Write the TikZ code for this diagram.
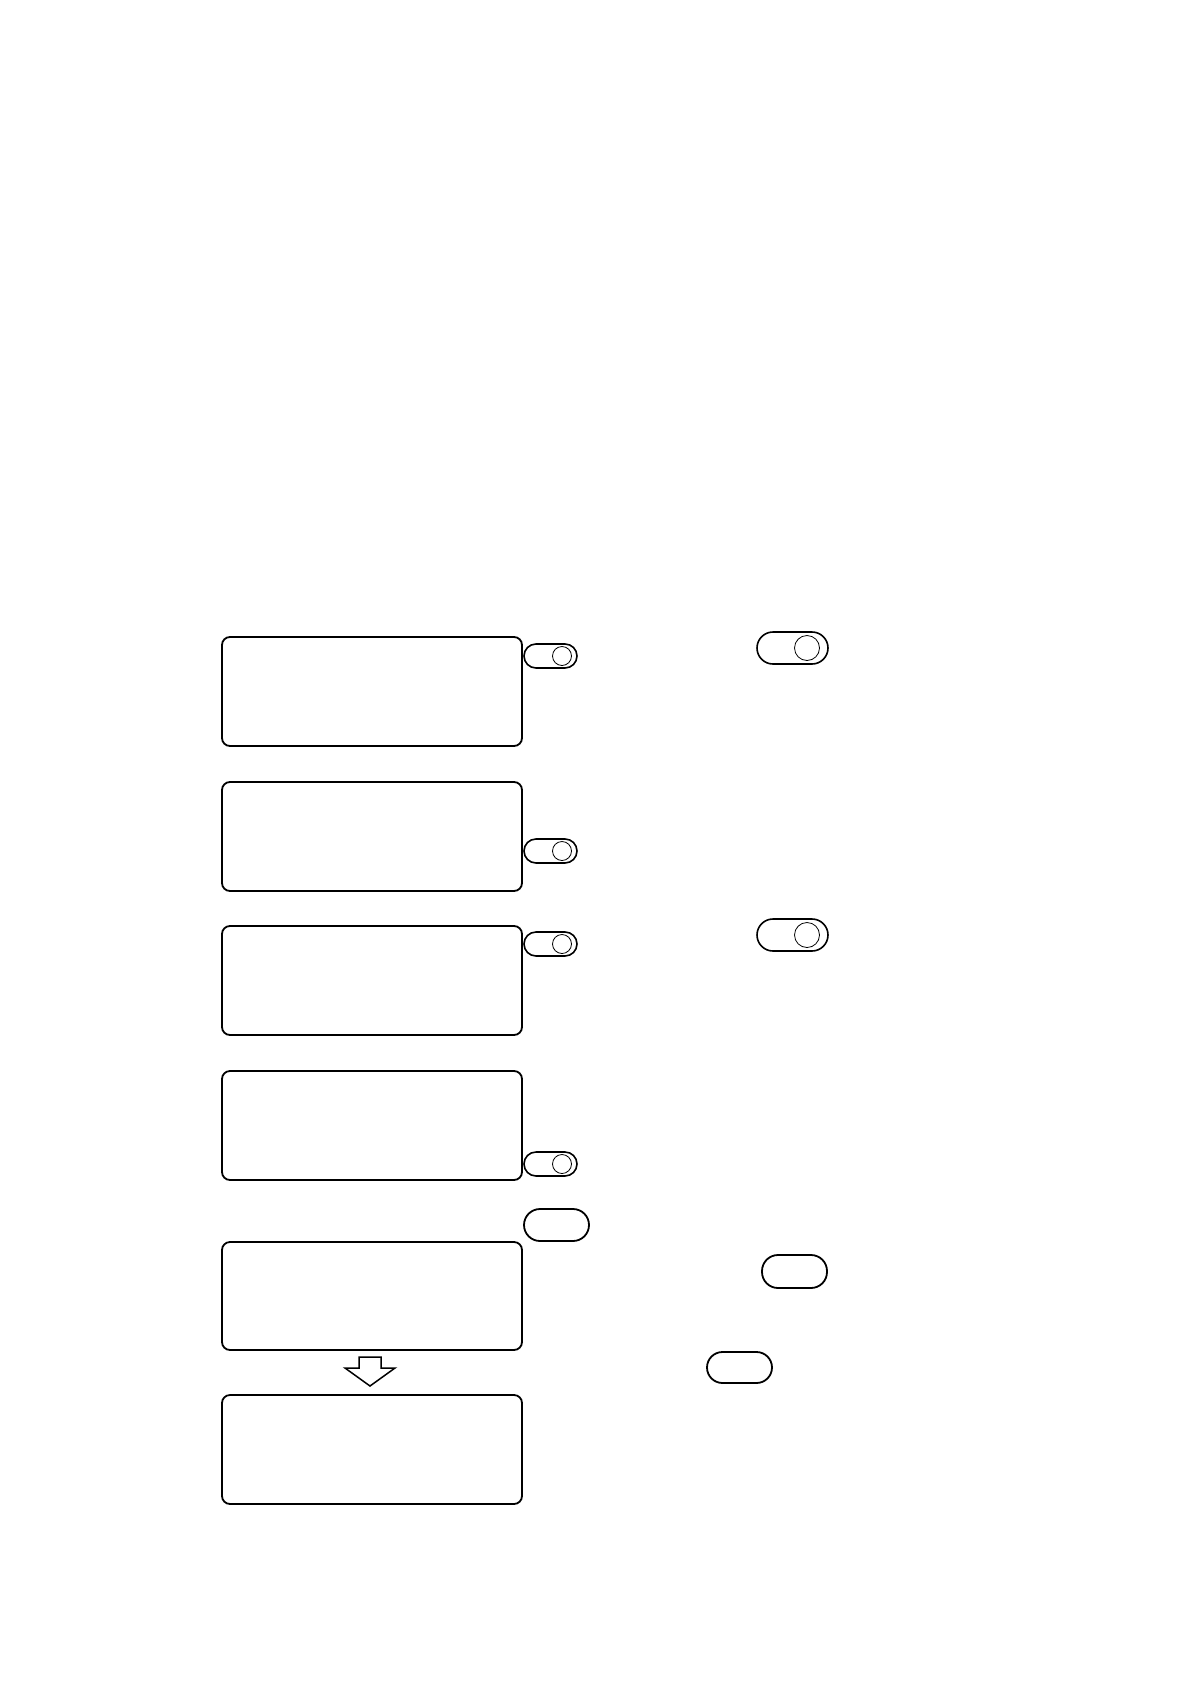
\documentclass[tikz,border=0pt]{standalone}
\begin{document}
\begin{tikzpicture}[x=1pt,y=-1pt,
  screen/.style={draw, line width=1.8pt, rounded corners=8pt},
  togglebox/.style={draw, line width=1.6pt, rounded corners=12pt},
  knob/.style={draw, line width=0.8pt},
  keybox/.style={draw, line width=1.8pt, rounded corners=15pt}]
\useasboundingbox (0,0) rectangle (1190,1684);
% screens
\draw[screen] (222,637) rectangle (522,746) coordinate (s1);
\draw[screen] (222,782) rectangle (522,891) coordinate (s2);
\draw[screen] (222,926) rectangle (522,1035) coordinate (s3);
\draw[screen] (222,1071) rectangle (522,1180) coordinate (s4);
\draw[screen] (222,1242) rectangle (522,1350) coordinate (s5);
\draw[screen] (222,1395) rectangle (522,1504) coordinate (s6);
% small toggles
\foreach \y [count=\i] in {656,851,944,1164}{
  \draw[togglebox] (524,\y-12) rectangle (577,\y+12);
  \draw[knob] (562,\y) circle (9.5);
}
% big toggles
\foreach \y in {648,935}{
  \draw[togglebox, rounded corners=16pt] (757,\y-16) rectangle (828,\y+16);
  \draw[knob] (807,\y) circle (12.5);
}
% key ovals
\draw[keybox, rounded corners=16pt] (524,1209) rectangle (589,1241);
\draw[keybox, rounded corners=16pt] (762,1255) rectangle (827,1288);
\draw[keybox, rounded corners=15.5pt] (707,1352) rectangle (772,1383);
% down arrow
\draw[line width=1.5pt, line join=miter] (359,1357) -- (381,1357) -- (381,1368) -- (395,1368) -- (370,1386) -- (345,1368) -- (359,1368) -- cycle;
\end{tikzpicture}
\end{document}
